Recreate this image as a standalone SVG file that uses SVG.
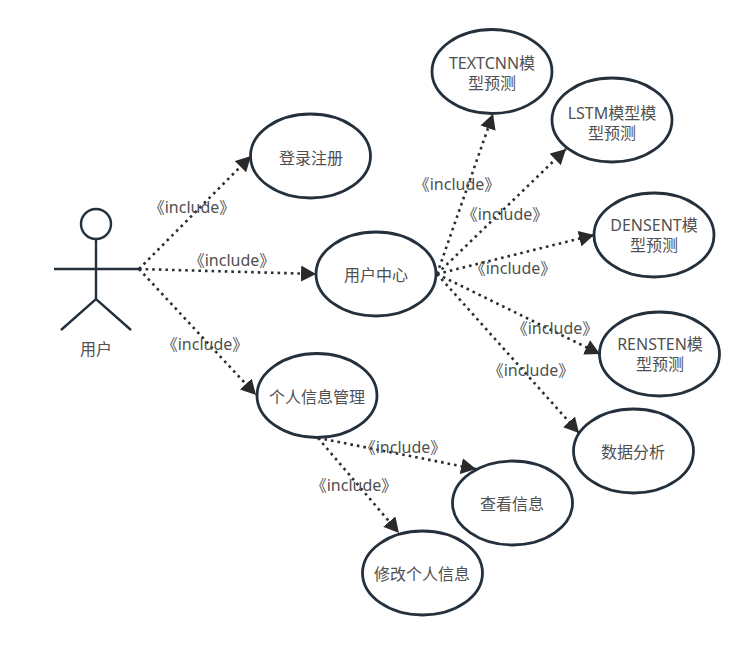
<svg xmlns="http://www.w3.org/2000/svg" width="750" height="645" viewBox="0 0 750 645">
<style>
.n ellipse{fill:#fff;stroke:#24303b;stroke-width:2.8}
text{font-family:"Noto Sans","Noto Sans CJK SC",sans-serif;font-size:16px;fill:#505050;text-anchor:middle}
.c line{stroke:#2a2f36;stroke-width:2.6;stroke-dasharray:2.6 4;marker-end:url(#a)}
.actor *{fill:none;stroke:#24303b;stroke-width:2.4}
</style>
<defs><marker id="a" markerUnits="userSpaceOnUse" markerWidth="17" markerHeight="16" refX="15" refY="8" orient="auto"><path d="M0 0L15 8L0 16Z" fill="#2a2a2a"/></marker></defs>
<rect width="750" height="645" fill="#fff"/>
<g id="actor"><g class="actor"><circle cx="96" cy="224" r="15"/><path d="M96 239V299M54 269H139M61 330L96 299L131 330"/></g><text x="96" y="355">用户</text></g>
<g class="c" id="connectors">
<line x1="139" y1="269" x2="251" y2="156"/>
<line x1="139" y1="269" x2="316" y2="274"/>
<line x1="139" y1="269" x2="256" y2="395"/>
<line x1="437" y1="274" x2="493" y2="114"/>
<line x1="437" y1="274" x2="566" y2="149"/>
<line x1="437" y1="274" x2="594" y2="235"/>
<line x1="437" y1="274" x2="600" y2="354"/>
<line x1="437" y1="274" x2="579" y2="433"/>
<line x1="318" y1="438" x2="476" y2="469"/>
<line x1="318" y1="438" x2="399" y2="533"/>
</g>
<g id="login" class="n"><ellipse cx="310.500" cy="156" rx="60" ry="42"/><text x="311" y="164">登录注册</text></g>
<g id="center" class="n"><ellipse cx="376" cy="274" rx="60" ry="42"/><text x="376" y="281">用户中心</text></g>
<g id="info" class="n"><ellipse cx="317" cy="395.500" rx="60" ry="42"/><text x="317" y="403">个人信息管理</text></g>
<g id="textcnn" class="n"><ellipse cx="492" cy="71.500" rx="60" ry="42"/><text x="492" y="69">TEXTCNN模</text><text x="492" y="89">型预测</text></g>
<g id="lstm" class="n"><ellipse cx="612" cy="120" rx="60" ry="42"/><text x="612" y="119">LSTM模型模</text><text x="612" y="139">型预测</text></g>
<g id="densent" class="n"><ellipse cx="654" cy="235" rx="60" ry="42"/><text x="654" y="231">DENSENT模</text><text x="654" y="251">型预测</text></g>
<g id="rensten" class="n"><ellipse cx="659.500" cy="354" rx="60" ry="42"/><text x="660" y="350">RENSTEN模</text><text x="660" y="370">型预测</text></g>
<g id="analysis" class="n"><ellipse cx="633.500" cy="451" rx="60" ry="42"/><text x="633" y="458">数据分析</text></g>
<g id="view" class="n"><ellipse cx="512.500" cy="503" rx="60" ry="42"/><text x="512" y="510">查看信息</text></g>
<g id="edit" class="n"><ellipse cx="422.500" cy="573" rx="60" ry="42"/><text x="422" y="580">修改个人信息</text></g>
<g id="labels">
<text x="192" y="213">《include》</text>
<text x="232" y="266">《include》</text>
<text x="205" y="350">《include》</text>
<text x="457" y="190">《include》</text>
<text x="505" y="220">《include》</text>
<text x="513" y="274">《include》</text>
<text x="555" y="334">《include》</text>
<text x="531" y="376">《include》</text>
<text x="403" y="453">《include》</text>
<text x="354" y="491">《include》</text>
</g>
</svg>
